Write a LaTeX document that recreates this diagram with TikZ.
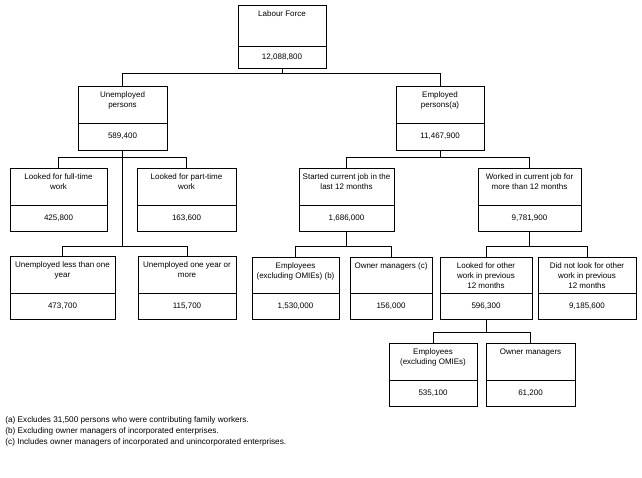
\documentclass[tikz,border=0pt]{standalone}
\usepackage{fontspec}
\setmainfont{Liberation Sans}
\begin{document}
\begin{tikzpicture}[x=1pt,y=-1pt,line width=0.9pt,
  lbl/.style={font=\fontsize{8}{10}\selectfont,align=center,anchor=north,inner sep=0pt},
  num/.style={font=\fontsize{8}{9}\selectfont,inner sep=0pt},
  note/.style={font=\fontsize{8.2}{9}\selectfont,anchor=west,inner sep=0pt}]
\useasboundingbox (0,0) rectangle (642,477);
\newcommand\bx[8]{%
  \draw (#2,#3) rectangle (#4,#5);
  \draw (#2,#6) -- (#4,#6);
  \coordinate (#1t) at ({(#2+#4)/2},#3);
  \coordinate (#1b) at ({(#2+#4)/2},#5);
  \node[lbl] (#1l) at ({(#2+#4)/2},{#3+5}) {#7};
  \node[num] (#1n) at ({(#2+#4)/2},{(#6+#5)/2}) {#8};}
\bx{lf}{238}{5}{326}{68}{46}{Labour Force}{12,088,800}
\bx{un}{78}{86}{167}{150}{123}{Unemployed\\persons}{589,400}
\bx{em}{396}{86}{484}{150}{123}{Employed\\persons(a)}{11,467,900}
\bx{ft}{10}{168}{107}{231}{205}{Looked for full-time\\work}{425,800}
\bx{pt}{137}{168}{236}{231}{205}{Looked for part-time\\work}{163,600}
\bx{st}{299}{168}{394}{231}{205}{Started current job in the\\last 12 months}{1,686,000}
\bx{wk}{478}{168}{581}{231}{205}{Worked in current job for\\more than 12 months}{9,781,900}
\bx{ly}{10}{256}{115}{319}{293}{Unemployed less than one\\year}{473,700}
\bx{oy}{138}{256}{236}{319}{293}{Unemployed one year or\\more}{115,700}
\bx{eb}{252}{257}{339}{319}{293}{Employees\\(excluding OMIEs) (b)}{1,530,000}
\bx{oc}{350}{257}{432}{319}{293}{Owner managers (c)}{156,000}
\bx{lo}{440}{257}{532}{319}{293}{Looked for other\\work in previous\\12 months}{596,300}
\bx{dn}{538}{257}{636}{319}{293}{Did not look for other\\work in previous\\12 months}{9,185,600}
\bx{ee}{389}{343}{477}{406}{380}{Employees\\(excluding OMIEs)}{535,100}
\bx{om}{486}{343}{575}{406}{380}{Owner managers}{61,200}
% connectors
\draw (lfb) -- ++(0,5) -| (unt);
\draw (lfb) ++(0,5) -| (emt);
\draw (unb) -- ++(0,7) -| (ftt);
\draw (unb) ++(0,7) -| (ptt);
\draw (unb) -- ++(0,96) coordinate (u2) -| (lyt);
\draw (u2) -| (oyt);
\draw (emb) -- ++(0,7) -| (stt);
\draw (emb) ++(0,7) -| (wkt);
\draw (stb) -- ++(0,15) -| (ebt);
\draw (stb) ++(0,15) -| (oct);
\draw (wkb) -- ++(0,15) -| (lot);
\draw (wkb) ++(0,15) -| (dnt);
\draw (lob) -- ++(0,13) -| (eet);
\draw (lob) ++(0,13) -| (omt);
\node[note] (n1) at (5,420) {(a) Excludes 31,500 persons who were contributing family workers.};
\node[note] (n2) at (5,431) {(b) Excluding owner managers of incorporated enterprises.};
\node[note] (n3) at (5,442) {(c) Includes owner managers of incorporated and unincorporated enterprises.};
\end{tikzpicture}
\end{document}
